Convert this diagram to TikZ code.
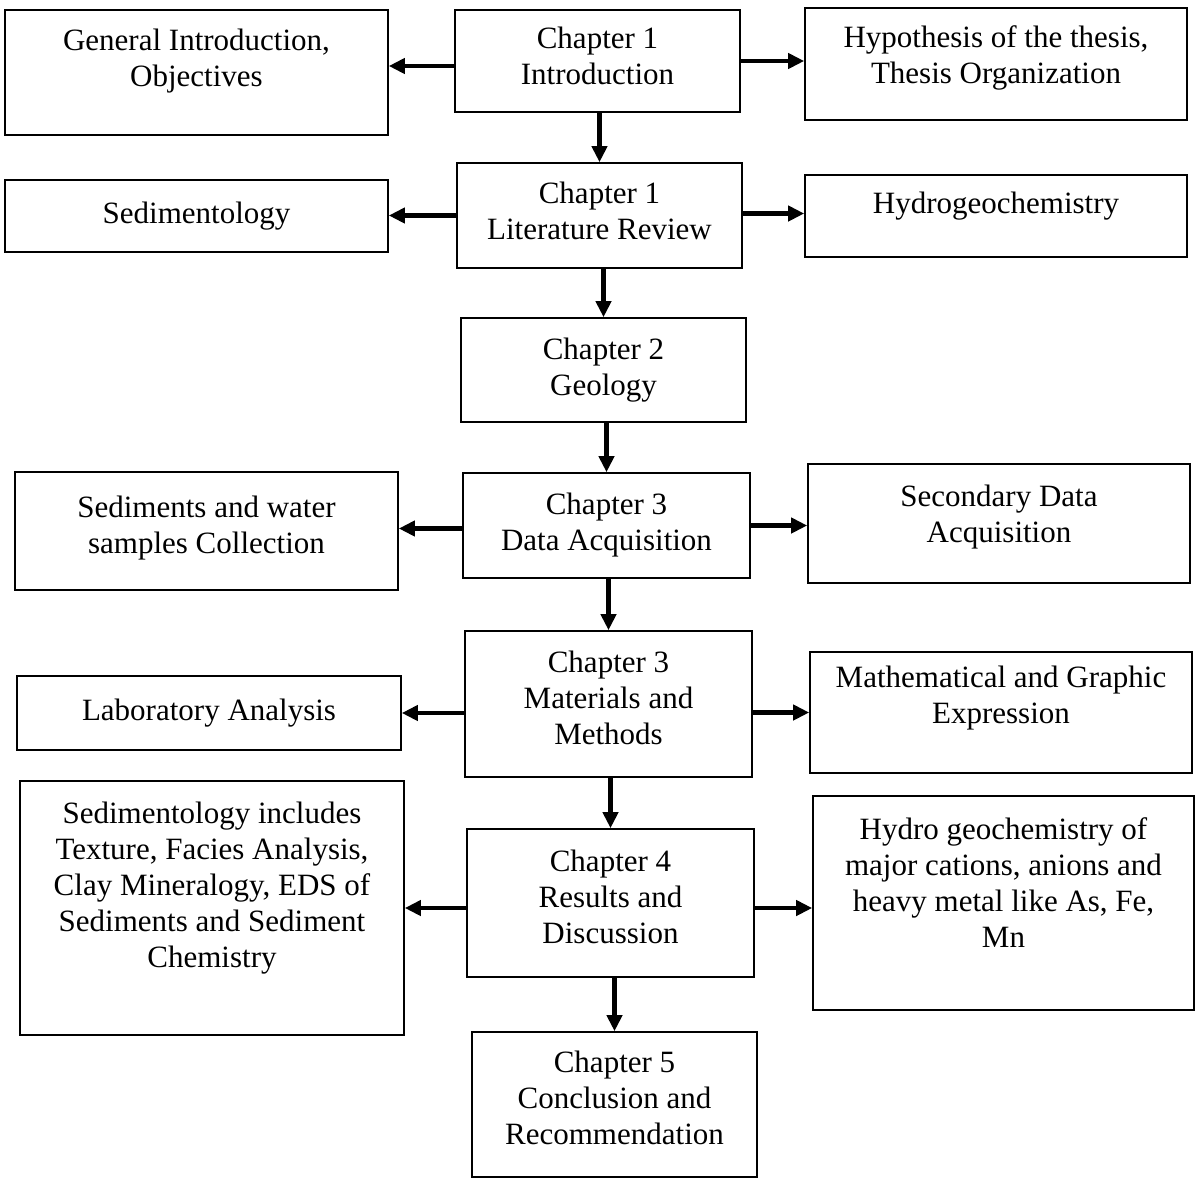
\documentclass[tikz,border=0pt]{standalone}
\usepackage{fontspec}
\setmainfont{Liberation Serif}
\usetikzlibrary{arrows.meta,positioning}

\begin{document}
\begin{tikzpicture}[
  x=1pt, y=-1pt,
  chap/.style={
    rectangle, draw=black, line width=1.6pt, fill=white,
    minimum width=285pt, align=center, inner sep=2pt,
    font=\fontsize{31}{36}\selectfont
  },
  side/.style={
    rectangle, draw=black, line width=1.6pt, fill=white,
    minimum width=383pt, align=center, inner sep=2pt,
    font=\fontsize{31}{36}\selectfont
  },
  arr/.style={-{Triangle[length=16pt,width=15pt]}, line width=4.5pt},
]
  \useasboundingbox (0,0) rectangle (1204,1179);

  % Chapter column
  \node[chap, minimum height=102pt] (intro) at (597.5,61) {Chapter 1\\Introduction\\[-25pt]};
  \node[chap, minimum height=105pt] (lit) at (599.5,215.5) {Chapter 1\\Literature Review\\[-27pt]};
  \node[chap, minimum height=104pt] (geo) at (603.5,370) {Chapter 2\\Geology};
  \node[chap, minimum height=105pt, minimum width=287pt] (data) at (606.5,525.5) {Chapter 3\\Data Acquisition};
  \node[chap, minimum height=146pt, minimum width=287pt] (meth) at (608.5,704) {Chapter 3\\Materials and\\Methods\\[-24pt]};
  \node[chap, minimum height=148pt, minimum width=287pt] (res) at (610.5,903) {Chapter 4\\Results and\\Discussion\\[-24pt]};
  \node[chap, minimum height=145pt] (concl) at (614.5,1104.5) {Chapter 5\\Conclusion and\\Recommendation\\[-22pt]};

  % Left boxes
  \node[side, minimum height=125pt] (gen) at (196.5,72.5) {General Introduction,\\Objectives\\[-6pt]};
  \node[side, minimum height=72pt] (sedm) at (196.5,216) {Sedimentology\\[-30pt]};
  \node[side, minimum height=118pt] (coll) at (206.5,531) {Sediments and water\\samples Collection\\[-23pt]};
  \node[side, minimum height=74pt, minimum width=384pt] (lab) at (209,713) {Laboratory Analysis\\[-30pt]};
  \node[side, minimum height=254pt, minimum width=384pt] (sedinc) at (212,908) {Sedimentology includes\\Texture, Facies Analysis,\\Clay Mineralogy, EDS of\\Sediments and Sediment\\Chemistry\\[10pt]};

  % Right boxes
  \node[side, minimum height=112pt, minimum width=382pt] (hyp) at (996,64) {Hypothesis of the thesis,\\Thesis Organization\\[-17pt]};
  \node[side, minimum height=82pt, minimum width=382pt] (hyd) at (996,216) {Hydrogeochemistry\\[-10pt]};
  \node[side, minimum height=119pt, minimum width=382pt] (sec) at (999,523.5) {Secondary Data\\Acquisition\\[-17pt]};
  \node[side, minimum height=121pt, minimum width=382pt] (math) at (1001,712.5) {Mathematical and Graphic\\Expression\\[0pt]};
  \node[side, minimum height=214pt, minimum width=381pt] (hgeo) at (1003.5,903) {Hydro geochemistry of\\major cations, anions and\\heavy metal like As, Fe,\\Mn\\[5pt]};

  % Down the chapters
  \draw[arr] (intro.south -| lit) -- (lit);
  \draw[arr] (lit.south -| geo) -- (geo);
  \draw[arr] (geo.south -| data) -- (data);
  \draw[arr] (data.south -| meth) -- (meth);
  \draw[arr] (meth.south -| res) -- (res);
  \draw[arr] (res.south -| concl) -- (concl);

  % Out to the sides
  \draw[arr] ([yshift=-5pt]intro.west) -- ([yshift=-5pt]intro.west -| gen.east);
  \draw[arr] (intro) -- (intro -| hyp.west);
  \draw[arr] (lit) -- (lit -| sedm.east);
  \draw[arr] ([yshift=2pt]lit.east) -- ([yshift=2pt]lit.east -| hyd.west);
  \draw[arr] ([yshift=-3pt]data.west) -- ([yshift=-3pt]data.west -| coll.east);
  \draw[arr] (data) -- (data -| sec.west);
  \draw[arr] (meth.west |- lab) -- (lab);
  \draw[arr] (meth.east |- math) -- (math);
  \draw[arr] (res.west |- sedinc) -- (sedinc);
  \draw[arr] ([yshift=-5pt]res.east) -- ([yshift=-5pt]res.east -| hgeo.west);
\end{tikzpicture}
\end{document}
